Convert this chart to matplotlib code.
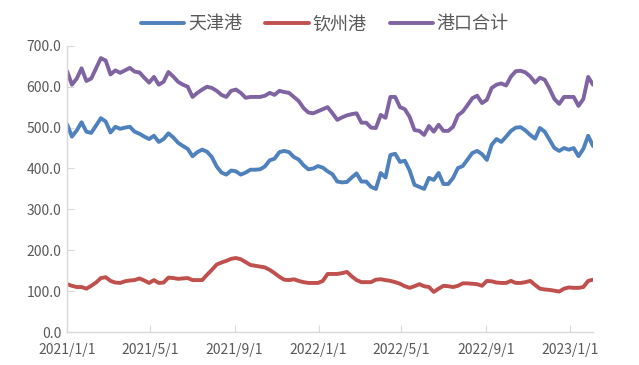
import numpy as np
import pandas as pd
import matplotlib
matplotlib.use("Agg")
import matplotlib.pyplot as plt
from matplotlib.ticker import FuncFormatter

plt.rcParams['font.family'] = ['Noto Sans CJK SC', 'DejaVu Sans']

# weekly data, starting 2021/1/1
dates = pd.date_range('2021-01-01', periods=110, freq='7D')

tianjin = [508, 478, 493, 513, 490, 487, 505, 523, 515, 488,
           502, 497, 500, 502, 490, 485, 478, 472, 480, 465,
           472, 486, 476, 463, 455, 448, 430, 440, 446, 441,
           428, 405, 390, 385, 395, 393, 385, 390, 397, 397,
           398, 405, 420, 424, 440, 443, 440, 428, 422, 408,
           398, 400, 406, 402, 393, 386, 368, 366, 367, 378,
           388, 368, 368, 355, 350, 389, 378, 433, 436, 416,
           419, 395, 360, 355, 350, 377, 372, 389, 362, 362,
           377, 401, 406, 422, 438, 443, 435, 421, 458, 472,
           465, 478, 492, 500, 501, 493, 482, 473, 499, 490,
           470, 450, 443, 450, 446, 450, 430, 448, 480, 455]

qinzhou = [117, 113, 110, 110, 106, 113, 121, 132, 134, 125,
           121, 120, 124, 126, 127, 131, 126, 120, 127, 120,
           121, 133, 132, 130, 131, 132, 127, 127, 127, 140,
           152, 165, 170, 174, 179, 181, 178, 171, 164, 162,
           160, 158, 152, 144, 135, 128, 127, 129, 125, 122,
           120, 120, 120, 125, 142, 142, 142, 144, 147, 136,
           127, 122, 122, 122, 128, 129, 127, 125, 122, 118,
           112, 108, 112, 117, 112, 110, 98, 106, 113, 112,
           110, 113, 119, 119, 118, 117, 113, 125, 124, 121,
           120, 120, 125, 120, 120, 122, 125, 115, 106, 104,
           103, 101, 99, 106, 109, 108, 108, 110, 125, 128]

total = [638, 605, 620, 645, 614, 620, 645, 670, 664, 630,
         640, 634, 640, 646, 637, 635, 622, 610, 624, 605,
         612, 636, 625, 612, 605, 600, 575, 585, 593, 600,
         597, 590, 580, 575, 590, 593, 585, 573, 575, 575,
         575, 578, 585, 580, 590, 587, 585, 575, 565, 548,
         537, 535, 540, 545, 550, 535, 519, 525, 530, 533,
         535, 512, 512, 500, 499, 531, 524, 575, 575, 550,
         545, 526, 494, 492, 482, 504, 490, 507, 492, 492,
         502, 530, 539, 555, 572, 578, 560, 568, 597, 605,
         608, 603, 625, 638, 639, 635, 625, 610, 622, 617,
         595, 570, 558, 575, 575, 575, 553, 570, 624, 605]

names = ['天津港', '钦州港', '港口合计']
colors = ['#4F81BD', '#C0504D', '#8064A2']

fig = plt.figure(figsize=(6.39, 3.65), dpi=100)
ax = fig.add_axes([0.105, 0.0904, 0.823, 0.784])

for vals, name, c in zip([tianjin, qinzhou, total], names, colors):
    ax.plot(dates, vals, color=c, lw=2.8, label=name, solid_capstyle='round')

ax.set_ylim(0, 700)
ax.set_yticks(np.arange(0, 701, 100))
ax.yaxis.set_major_formatter(FuncFormatter(lambda v, p: f'{v:.1f}'))

ax.set_xlim(dates[0], dates[-1])
ticks = pd.to_datetime(['2021-01-01', '2021-05-01', '2021-09-01', '2022-01-01',
                        '2022-05-01', '2022-09-01', '2023-01-01'])
ax.set_xticks(ticks)
ax.set_xticklabels([f'{d.year}/{d.month}/{d.day}' for d in ticks])

for s in ['top', 'right']:
    ax.spines[s].set_visible(False)
for s in ['left', 'bottom']:
    ax.spines[s].set_color('#D9D9D9')
    ax.spines[s].set_linewidth(1.0)

ax.tick_params(axis='both', direction='in', length=5, color='#D9D9D9',
               labelcolor='#595959', labelsize=10)
ax.tick_params(axis='x', pad=8)
ax.tick_params(axis='y', pad=4)

ax.legend(loc='center', bbox_to_anchor=(0.49, 1.075), ncol=3, frameon=False,
          fontsize=13, handlelength=2.4, columnspacing=1.3, handletextpad=0.2,
          labelcolor='#595959')

fig.savefig('out.png', dpi=100)
